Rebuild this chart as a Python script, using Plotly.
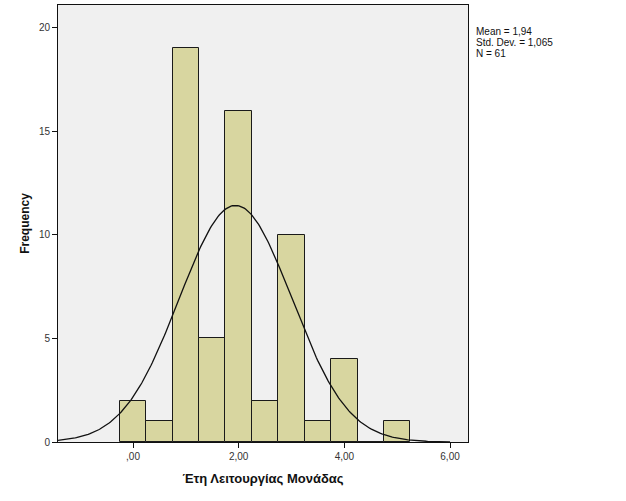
import numpy as np
import plotly.graph_objects as go

bin_centers = [0.0, 0.5, 1.0, 1.5, 2.0, 2.5, 3.0, 3.5, 4.0, 4.5, 5.0]
frequencies = [2, 1, 19, 5, 16, 2, 10, 1, 4, 0, 1]
bin_width = 0.5
mean_val = 1.94
std_val = 1.065
n_val = 61
x_tick_vals = [0, 2, 4, 6]
x_tick_text = [",00", "2,00", "4,00", "6,00"]
y_tick_vals = [0, 5, 10, 15, 20]
stats_lines = ["Mean = 1,94", "Std. Dev. = 1,065", "N = 61"]

xs = np.linspace(-1.42, 6.0, 300)
ys = n_val * bin_width * np.exp(-0.5 * ((xs - mean_val) / std_val) ** 2) / (std_val * np.sqrt(2 * np.pi))

fig = go.Figure()
fig.add_trace(go.Bar(
    x=bin_centers, y=frequencies, width=[bin_width] * len(bin_centers),
    marker=dict(color="#d8d6a0", line=dict(color="#1a1a1a", width=1)),
    hoverinfo="x+y", showlegend=False,
))
fig.add_trace(go.Scatter(
    x=xs, y=ys, mode="lines", line=dict(color="#111111", width=1.3),
    showlegend=False, hoverinfo="skip",
))

annotations = []
for i, line in enumerate(stats_lines):
    annotations.append(dict(
        xref="paper", yref="paper", x=1.018, y=0.940 - i * 0.0255,
        xanchor="left", yanchor="middle", text=line, showarrow=False, align="left",
        borderpad=0,
        font=dict(size=10, color="#111111", family="Liberation Sans, Arial, sans-serif"),
    ))

fig.update_layout(
    width=626, height=501,
    margin=dict(l=58, r=158, t=5, b=59),
    paper_bgcolor="white", plot_bgcolor="#f0f0f0",
    font=dict(family="Liberation Sans, Arial, sans-serif", size=10, color="#222222"),
    bargap=0,
    xaxis=dict(
        range=[-1.42, 6.34], tickvals=x_tick_vals, ticktext=x_tick_text,
        ticks="outside", ticklen=5, tickcolor="#111111", showgrid=False, zeroline=False,
        showline=True, linecolor="#111111", linewidth=1, mirror=True,
        title=dict(text="<b>Έτη Λειτουργίας Μονάδας</b>", font=dict(size=13, family="Liberation Sans, Arial, sans-serif", color="#111111"), standoff=12),
        tickfont=dict(size=10, color="#333333"),
    ),
    yaxis=dict(
        range=[0, 21.1], tickvals=y_tick_vals,
        ticks="outside", ticklen=5, tickcolor="#111111", showgrid=False, zeroline=False,
        showline=True, linecolor="#111111", linewidth=1, mirror=True,
        title=dict(text="<b>Frequency</b>", font=dict(size=12, family="Liberation Sans, Arial, sans-serif", color="#111111"), standoff=6),
        tickfont=dict(size=10, color="#333333"),
    ),
    annotations=annotations,
)

fig.write_html("out.html", config={"displayModeBar": False},
               post_script="document.body.style.margin='0';document.body.style.padding='0';")
